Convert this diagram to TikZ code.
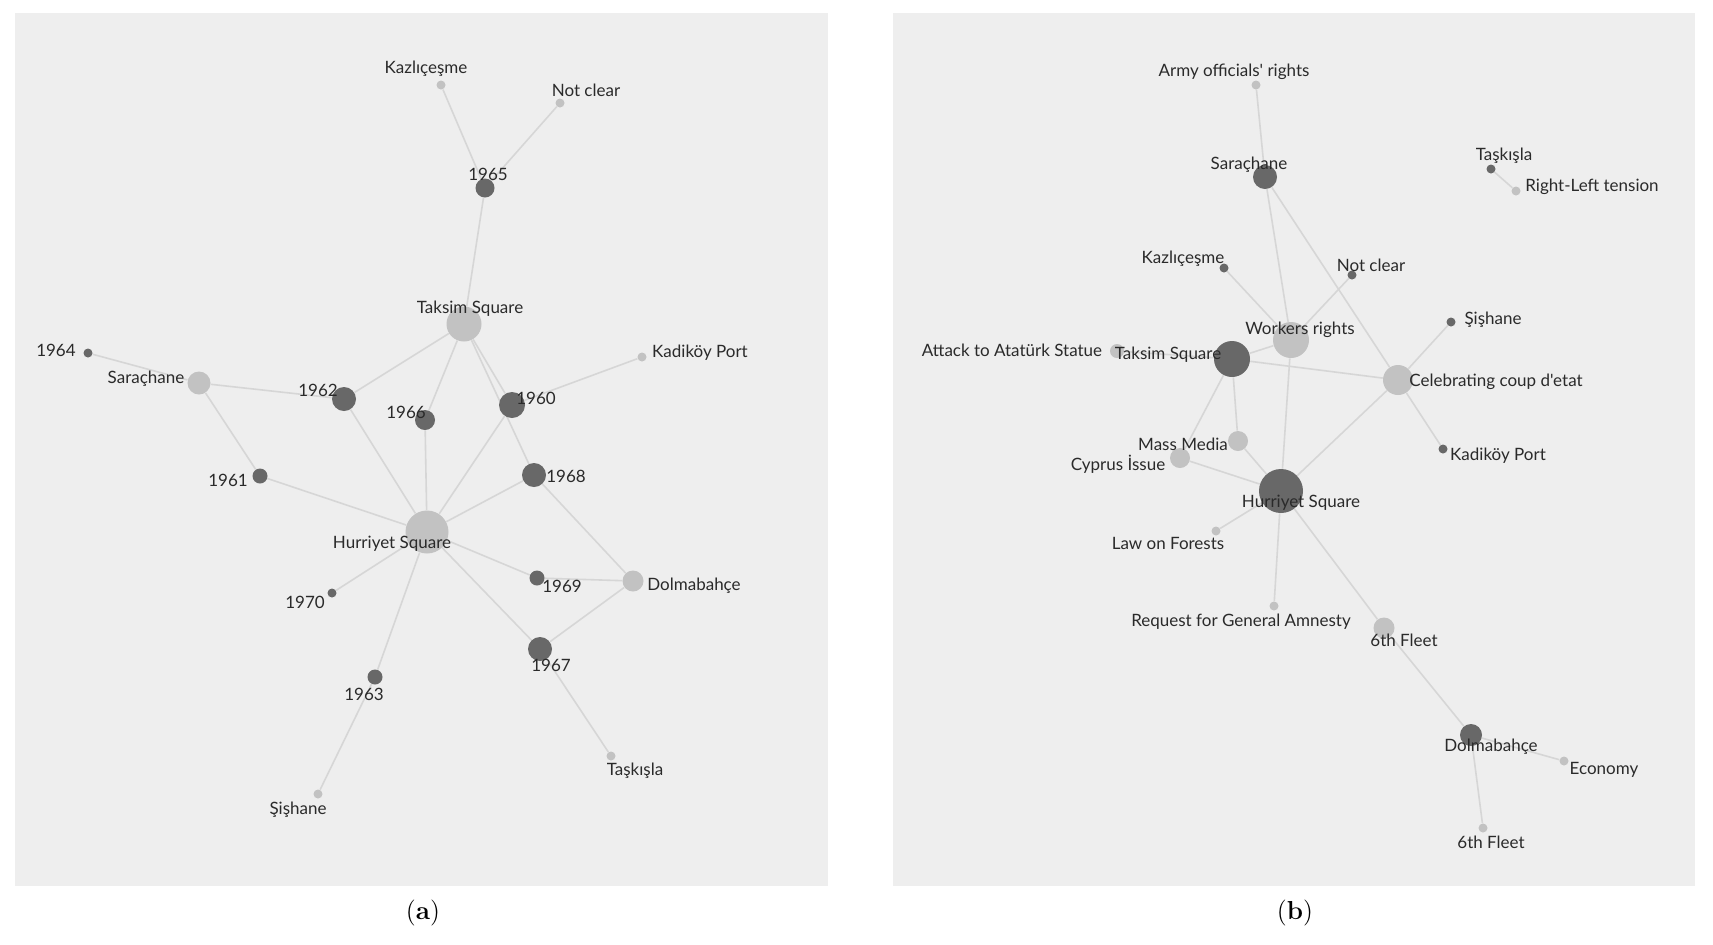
\documentclass[tikz,border=0pt]{standalone}
\usepackage{fontspec}
\newfontfamily\lab{Lato}
\definecolor{panelc}{HTML}{EEEEEE}
\definecolor{dkc}{HTML}{686868}
\definecolor{ltc}{HTML}{C2C2C2}
\definecolor{edc}{HTML}{D6D6D6}
\definecolor{txt}{HTML}{2A2A2A}
\pgfdeclarelayer{bg}
\pgfsetlayers{bg,main}
\begin{document}
\begin{tikzpicture}[x=0.5pt,y=-0.5pt,
  dk/.style={circle,fill=dkc,inner sep=0pt,minimum size=#1pt},
  lt/.style={circle,fill=ltc,inner sep=0pt,minimum size=#1pt},
  lbl/.style={font=\lab\fontsize{8.5}{10}\selectfont,text=txt,inner sep=0pt},
  edge/.style={draw=edc,line width=0.8pt},
  captext/.style={font=\fontsize{13}{15}\selectfont,inner sep=0pt}]
\useasboundingbox (0,0) rectangle (1713,944);
\begin{pgfonlayer}{bg}
\fill[white] (0,0) rectangle (1713,944);
\fill[panelc] (15,13) rectangle (828,886);
\fill[panelc] (893,13) rectangle (1695,886);
\end{pgfonlayer}
% ---------- panel (a) nodes
\node[lt=4.5] (kaz) at (441,85) {};
\node[lt=4.5] (nc) at (560,103) {};
\node[dk=9.5] (y65) at (485,188) {};
\node[lt=17.5] (tak) at (464,324) {};
\node[dk=4.5] (y64) at (88,353) {};
\node[lt=11.5] (sar) at (199,383) {};
\node[dk=12] (y62) at (344,399) {};
\node[dk=10] (y66) at (425,420) {};
\node[dk=13] (y60) at (512,405) {};
\node[lt=4.5] (kad) at (642,357) {};
\node[dk=7.5] (y61) at (260,476) {};
\node[dk=12] (y68) at (534,475) {};
\node[lt=21.5] (hur) at (427,532) {};
\node[dk=4.5] (y70) at (332,593) {};
\node[dk=7.5] (y69) at (537,578) {};
\node[lt=10.5] (dol) at (633,581) {};
\node[dk=12] (y67) at (540,649) {};
\node[dk=7.5] (y63) at (375,677) {};
\node[lt=4.5] (tas) at (611,756) {};
\node[lt=4.5] (sis) at (318,794) {};
% ---------- panel (b) nodes
\node[lt=4.5] (army) at (1256,85) {};
\node[dk=12] (sarb) at (1265,177) {};
\node[dk=4.5] (tasb) at (1491,169) {};
\node[lt=4.5] (rlt) at (1516,191) {};
\node[dk=4.5] (kazb) at (1224,268) {};
\node[dk=4.5] (ncb) at (1352,275) {};
\node[dk=4.5] (sisb) at (1451,322) {};
\node[lt=18] (wr) at (1291,340) {};
\node[lt=7] (att) at (1117,351) {};
\node[dk=18] (takb) at (1232,359) {};
\node[lt=15] (cel) at (1398,380) {};
\node[lt=10] (mm) at (1238,441) {};
\node[lt=10] (cyp) at (1180,458) {};
\node[dk=4.5] (kadb) at (1443,449) {};
\node[dk=22] (hurb) at (1281,491) {};
\node[lt=4.5] (law) at (1216,531) {};
\node[lt=4.5] (req) at (1274,606) {};
\node[lt=10.5] (fa) at (1384,628) {};
\node[dk=11] (dolb) at (1471,735) {};
\node[lt=4.5] (eco) at (1564,761) {};
\node[lt=4.5] (fb) at (1483,828) {};
% ---------- edges
\begin{pgfonlayer}{bg}
\draw[edge] (kaz) -- (y65);
\draw[edge] (nc) -- (y65);
\draw[edge] (y65) -- (tak);
\draw[edge] (tak) -- (y62);
\draw[edge] (tak) -- (y66);
\draw[edge] (tak) -- (y60);
\draw[edge] (tak) -- (y68);
\draw[edge] (y64) -- (sar);
\draw[edge] (sar) -- (y62);
\draw[edge] (sar) -- (y61);
\draw[edge] (y62) -- (hur);
\draw[edge] (y66) -- (hur);
\draw[edge] (y60) -- (hur);
\draw[edge] (y60) -- (kad);
\draw[edge] (y61) -- (hur);
\draw[edge] (y68) -- (hur);
\draw[edge] (y68) -- (dol);
\draw[edge] (hur) -- (y70);
\draw[edge] (hur) -- (y63);
\draw[edge] (hur) -- (y69);
\draw[edge] (hur) -- (y67);
\draw[edge] (y69) -- (dol);
\draw[edge] (y67) -- (dol);
\draw[edge] (y67) -- (tas);
\draw[edge] (y63) -- (sis);
%
\draw[edge] (army) -- (sarb);
\draw[edge] (sarb) -- (wr);
\draw[edge] (sarb) -- (cel);
\draw[edge] (tasb) -- (rlt);
\draw[edge] (kazb) -- (wr);
\draw[edge] (ncb) -- (wr);
\draw[edge] (wr) -- (takb);
\draw[edge] (wr) -- (hurb);
\draw[edge] (att) -- (takb);
\draw[edge] (takb) -- (cel);
\draw[edge] (takb) -- (mm);
\draw[edge] (takb) -- (cyp);
\draw[edge] (mm) -- (hurb);
\draw[edge] (cyp) -- (hurb);
\draw[edge] (cel) -- (sisb);
\draw[edge] (cel) -- (kadb);
\draw[edge] (cel) -- (hurb);
\draw[edge] (hurb) -- (law);
\draw[edge] (hurb) -- (req);
\draw[edge] (hurb) -- (fa);
\draw[edge] (fa) -- (dolb);
\draw[edge] (dolb) -- (eco);
\draw[edge] (dolb) -- (fb);
\end{pgfonlayer}
% ---------- labels (a)
\node[lbl] (kazL) at (426,69) {Kazlıçeşme};
\node[lbl] (ncL) at (586,90) {Not clear};
\node[lbl] (y65L) at (488,174) {1965};
\node[lbl] (takL) at (470,309) {Taksim Square};
\node[lbl] (y64L) at (56,350) {1964};
\node[lbl] (sarL) at (146,379) {Saraçhane};
\node[lbl] (y62L) at (318,390) {1962};
\node[lbl] (y66L) at (406,412) {1966};
\node[lbl] (y60L) at (536,398) {1960};
\node[lbl] (kadL) at (700,353) {Kadiköy Port};
\node[lbl] (y61L) at (228,480) {1961};
\node[lbl] (y68L) at (566,476) {1968};
\node[lbl] (hurL) at (392,544) {Hurriyet Square};
\node[lbl] (y70L) at (305,602) {1970};
\node[lbl] (y69L) at (562,586) {1969};
\node[lbl] (dolL) at (694,586) {Dolmabahçe};
\node[lbl] (y67L) at (551,665) {1967};
\node[lbl] (y63L) at (364,694) {1963};
\node[lbl] (tasL) at (635,771) {Taşkışla};
\node[lbl] (sisL) at (298,810) {Şişhane};
% ---------- labels (b)
\node[lbl] (armyL) at (1234,72) {Army officials' rights};
\node[lbl] (sarbL) at (1249,165) {Saraçhane};
\node[lbl] (tasbL) at (1504,156) {Taşkışla};
\node[lbl] (rltL) at (1592,187) {Right-Left tension};
\node[lbl] (kazbL) at (1183,259) {Kazlıçeşme};
\node[lbl] (ncbL) at (1371,265) {Not clear};
\node[lbl] (sisbL) at (1493,320) {Şişhane};
\node[lbl] (wrL) at (1300,330) {Workers rights};
\node[lbl] (attL) at (1012,350) {Attack to Atatürk Statue};
\node[lbl] (takbL) at (1168,355) {Taksim Square};
\node[lbl] (celL) at (1496,382) {Celebrating coup d'etat};
\node[lbl] (mmL) at (1183,444) {Mass Media};
\node[lbl] (cypL) at (1118,464) {Cyprus İssue};
\node[lbl] (kadbL) at (1498,456) {Kadiköy Port};
\node[lbl] (hurbL) at (1301,503) {Hurriyet Square};
\node[lbl] (lawL) at (1168,543) {Law on Forests};
\node[lbl] (reqL) at (1241,622) {Request for General Amnesty};
\node[lbl] (faL) at (1404,640) {6th Fleet};
\node[lbl] (dolbL) at (1491,747) {Dolmabahçe};
\node[lbl] (ecoL) at (1604,770) {Economy};
\node[lbl] (fbL) at (1491,842) {6th Fleet};
% ---------- captions
\node[captext] (capa) at (423,913) {(\textbf{a})};
\node[captext] (capb) at (1295,913) {(\textbf{b})};
\end{tikzpicture}
\end{document}
